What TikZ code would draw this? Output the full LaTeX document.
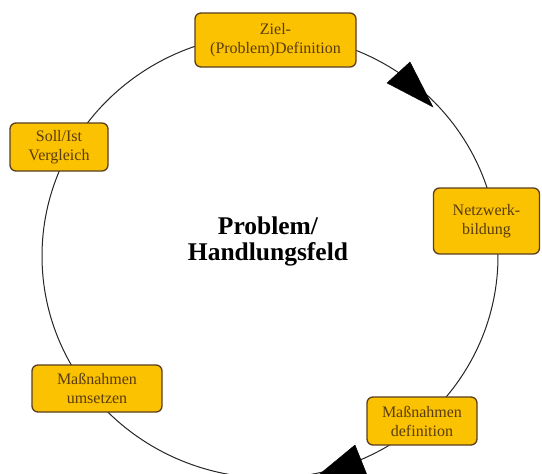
\documentclass[tikz,border=0pt]{standalone}
\usepackage{fontspec}
\setmainfont{Liberation Serif}
\definecolor{boxfill}{RGB}{250,194,0}
\definecolor{boxline}{RGB}{90,62,30}
\definecolor{boxtext}{RGB}{90,60,15}
\tikzset{
  stagebox/.style={draw=boxline, line width=1.3pt, fill=boxfill, rounded corners=6pt,
    align=center, text=boxtext, inner sep=0pt,
    font=\fontsize{16}{19}\selectfont},
  cycleline/.style={draw=black!85, line width=1pt},
  headtri/.style={fill=black, draw=black, line join=miter}
}
\begin{document}
\begin{tikzpicture}[x=1pt,y=-1pt]
\useasboundingbox (0,0) rectangle (542,474);
\clip (0,0) rectangle (542,474);
\fill[white] (0,0) rectangle (542,474);
% cycle
\draw[cycleline] (270,256) ellipse [x radius=228, y radius=222];
% arrow heads
\coordinate (t1) at (433,107);
\coordinate (b1a) at (387,83);
\coordinate (b1b) at (410,62);
\fill[headtri] (b1a) -- (b1b) -- (t1) -- cycle;
\coordinate (t2) at (315,478);
\coordinate (b2a) at (355,445);
\coordinate (b2b) at (367,475);
\fill[headtri] (b2a) -- (b2b) -- (t2) -- cycle;
% boxes
\node[stagebox, minimum width=161pt, minimum height=54pt] (ziel) at (275.5,40) {Ziel-\\(Problem)Definition};
\node[stagebox, minimum width=98pt, minimum height=48pt] (soll) at (59,147) {Soll/Ist\\Vergleich};
\node[stagebox, minimum width=106pt, minimum height=66pt] (netz) at (486.5,221) {Netzwerk-\\bildung};
\node[stagebox, minimum width=130pt, minimum height=47pt] (umsetzen) at (97,388.5) {Maßnahmen\\umsetzen};
\node[stagebox, minimum width=110pt, minimum height=48pt] (def) at (422,421) {Maßnahmen\\definition};
% centre
\node[align=center, font=\bfseries\fontsize{25.5}{26}\selectfont] (center) at (268,241) {Problem/\\Handlungsfeld};
\end{tikzpicture}
\end{document}
